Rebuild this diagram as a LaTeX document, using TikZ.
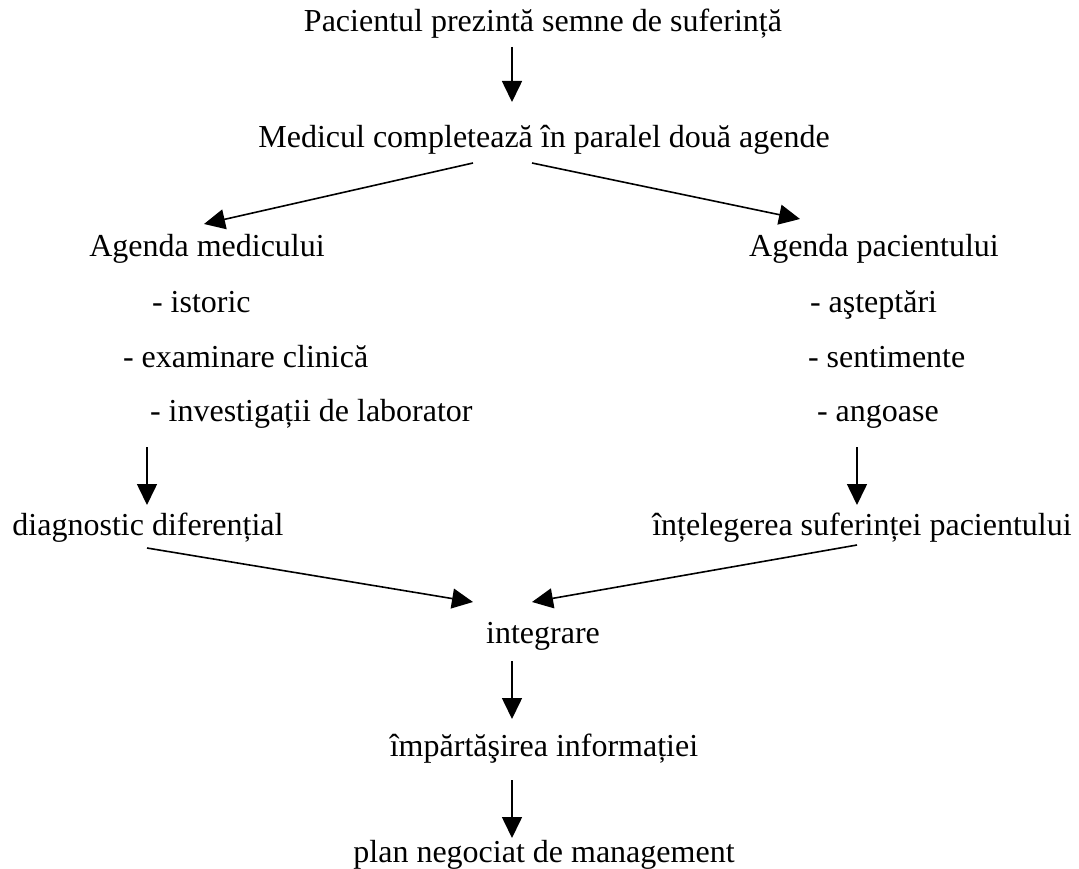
\documentclass[tikz,border=0pt]{standalone}
\usepackage{fontspec}
\setmainfont{Liberation Serif}
\usetikzlibrary{arrows.meta}
\begin{document}
\begin{tikzpicture}[x=1pt,y=-1pt,
  lbl/.style={inner sep=0pt,outer sep=0pt,anchor=base,font=\fontsize{32}{38}\selectfont},
  lbll/.style={lbl,anchor=base west},
  conn/.style={line width=1.6pt,-{Triangle[length=21pt,width=20pt]}}]
\useasboundingbox[fill=white] (0,0) rectangle (1079,869);
% texts
\node[lbl] (n1) at (543,32) {Pacientul prezintă semne de suferință};
\node[lbl] (n2) at (544,148) {Medicul completează în paralel două agende};
\node[lbl] (n3) at (207,257) {Agenda medicului};
\node[lbl] (n4) at (874,257) {Agenda pacientului};
\node[lbll] (m1) at (152,312) {- istoric};
\node[lbll] (m2) at (123,367) {- examinare clinică};
\node[lbll] (m3) at (150,421) {- investigații de laborator};
\node[lbll] (p1) at (810,312) {- aşteptări};
\node[lbll] (p2) at (808,367) {- sentimente};
\node[lbll] (p3) at (817,421) {- angoase};
\node[lbl] (n5) at (148,535) {diagnostic diferențial};
\node[lbl] (n6) at (862,535) {înțelegerea suferinței pacientului};
\node[lbl] (n7) at (543,643) {integrare};
\node[lbl] (n8) at (544,756) {împărtăşirea informației};
\node[lbl] (n9) at (544,862) {plan negociat de management};
% connector end points
\coordinate (a1s) at (512,47);  \coordinate (a1e) at (512,102);
\coordinate (a2s) at (473,163); \coordinate (a2e) at (204,224);
\coordinate (a3s) at (532,163); \coordinate (a3e) at (800,219);
\coordinate (a4s) at (147,447); \coordinate (a4e) at (147,505);
\coordinate (a5s) at (857,447); \coordinate (a5e) at (857,505);
\coordinate (a6s) at (147,548); \coordinate (a6e) at (473,602);
\coordinate (a7s) at (857,545); \coordinate (a7e) at (532,602);
\coordinate (a8s) at (512,661); \coordinate (a8e) at (512,719);
\coordinate (a9s) at (512,780); \coordinate (a9e) at (512,838);
\foreach \i in {1,...,9} \draw[conn] (a\i s) -- (a\i e);
\end{tikzpicture}
\end{document}
